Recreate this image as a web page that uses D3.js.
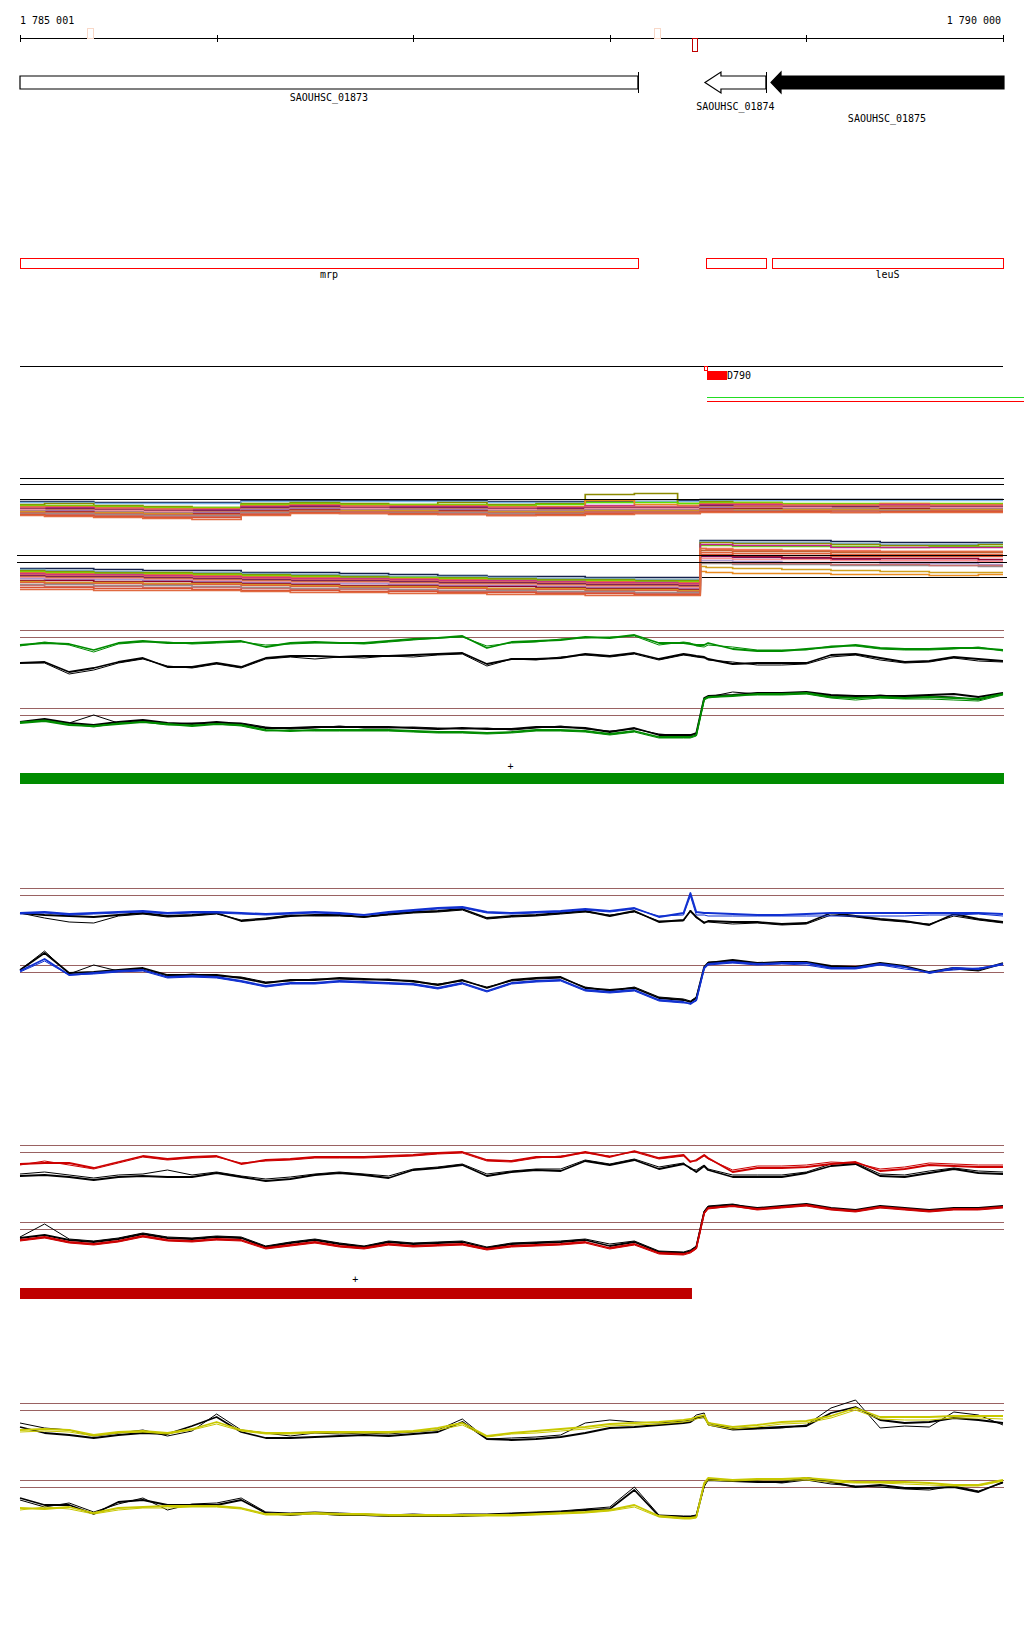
<!DOCTYPE html>
<html><head><meta charset="utf-8">
<script src="https://cdn.jsdelivr.net/npm/d3@7"></script>
<style>
body{margin:0;background:#fff}
svg{display:block}
text{font-family:"DejaVu Sans Mono",monospace;font-size:10px;fill:#000}
</style></head>
<body><svg id="c" width="1024" height="1640"></svg>
<script>
// ---------------- DATA ----------------
const regionLabels = ["1 785 001", "1 790 000"];
const tickOffsets = [0, 1000, 2000, 3000, 4000, 5000];
const axisMarkStart = [341, 3225, 3418];
const axisMarkEnd   = [371, 3256, 3444];
const axisMarkSide  = ["up", "up", "down"];

const geneNames  = ["SAOUHSC_01873", "SAOUHSC_01874", "SAOUHSC_01875"];
const geneStart  = [0, 3484, 3820];
const geneEnd    = [3143, 3794, 5005];
const geneStrand = ["+", "-", "-"];
const geneFilled = [false, false, true];

const operonNames = ["mrp", "", "leuS"];
const operonStart = [0, 3489, 3825];
const operonEnd   = [3143, 3794, 5000];

const featLabel = "D790";
const featStart = 3494, featEnd = 3596;

// signal sample positions (bp offset from 1 785 001)
const sigPos = [0,125,250,375,500,625,750,875,1000,1125,1250,1375,1500,1625,1750,1875,2000,2125,2250,2375,2500,2625,2750,2875,3000,3125,3250,3375,3410,3440,3480,3500,3625,3750,3875,4000,4125,4250,4375,4500,4625,4750,4875,5000];

// green condition
const greenUpG1 = [45,47,46,40,47,49,47,47,48,49,43,47,48,47,47,49,51,52,54,42,48,49,50,53,52,55,47,47,46,45,45,47,41,39,39,41,43,45,42,41,41,42,42,40];
const greenUpG2 = [44,48,45,38,46,48,48,46,47,48,45,46,47,47,46,48,50,52,53,44,47,48,51,52,53,54,45,48,47,44,43,45,43,40,40,40,44,44,41,40,40,41,43,39];
const greenUpK1 = [27,28,18,22,28,32,23,23,27,23,32,34,34,33,34,34,35,36,37,26,31,31,32,36,34,37,31,36,35,34,33,31,26,27,27,27,35,36,32,28,29,33,31,29];
const greenUpK2 = [27,27,16,20,27,31,24,22,26,22,31,33,31,33,32,34,33,35,36,24,31,30,33,35,33,36,30,35,34,33,32,30,28,25,25,26,33,35,30,27,28,32,29,28];
const greenLoK1 = [46,49,45,43,46,48,45,44,46,44,40,40,41,41,41,41,40,39,40,39,39,41,41,40,36,40,33,33,33,35,70,72,73,75,75,76,73,72,72,72,73,74,71,75];
const greenLoK2 = [46,48,45,53,45,47,44,45,45,45,41,39,40,42,40,40,41,40,39,40,38,40,42,39,37,39,34,32,32,34,69,71,76,74,74,75,72,71,73,71,72,71,68,74];
const greenLoG1 = [45,47,43,42,44,46,44,42,44,43,38,37,38,38,38,38,37,36,36,35,36,38,38,37,34,37,31,31,31,33,69,71,72,74,74,75,71,70,71,70,71,70,69,74];
const greenLoG2 = [46,48,44,41,45,46,43,43,44,42,37,38,37,37,37,37,36,35,35,34,35,37,37,36,33,36,30,30,30,32,68,70,73,73,73,74,70,68,70,69,69,68,67,73];

// blue condition
const blueUpB1 = [35,36,34,35,36,37,35,36,36,35,34,35,36,35,33,36,38,40,41,36,35,36,37,39,37,40,31,35,55,36,35,35,34,33,33,34,35,35,35,35,35,35,35,34];
const blueUpB2 = [34,35,33,34,35,36,34,35,35,34,33,34,35,34,33,35,37,39,40,35,34,35,36,38,36,39,32,33,52,33,33,32,32,32,32,32,32,32,32,32,33,33,34,32];
const blueUpK1 = [35,33,32,31,33,35,32,33,35,27,29,32,33,33,31,34,36,37,39,30,32,33,35,37,32,37,26,28,37,31,25,27,26,26,24,25,35,32,29,27,23,34,29,26];
const blueUpK2 = [35,30,26,25,32,34,31,32,34,28,30,33,32,32,31,33,35,36,38,29,31,32,34,36,33,36,27,27,38,30,26,26,24,25,23,24,33,31,28,26,24,32,28,25];
const blueLoK1 = [55,72,52,53,55,57,50,50,50,47,42,45,45,47,46,45,44,40,45,37,45,47,48,37,35,37,27,25,23,27,58,62,65,62,63,63,59,58,62,59,53,57,55,62];
const blueLoK2 = [55,74,51,60,54,56,49,51,49,48,43,44,46,46,45,46,43,41,44,38,44,46,47,38,34,38,28,26,24,28,57,63,64,61,62,62,58,57,61,58,52,56,54,61];
const blueLoB1 = [54,66,50,52,54,55,48,49,48,44,39,42,42,44,43,42,41,37,42,34,42,44,45,35,33,35,25,23,21,25,57,61,63,61,62,62,57,57,61,58,52,57,56,61];
const blueLoB2 = [53,64,50,51,53,54,47,48,47,43,38,41,41,43,42,41,40,36,41,33,41,43,44,34,32,34,24,22,22,24,56,60,62,60,61,60,56,56,60,56,53,55,57,60];

// red condition
const redUpR1 = [41,42,42,37,43,49,46,48,49,41,45,46,48,48,48,49,50,52,53,45,44,48,48,53,48,54,47,50,43,45,50,47,33,37,37,38,41,43,34,36,40,39,38,38];
const redUpR2 = [40,44,40,36,42,48,45,47,48,42,44,45,47,47,47,48,49,51,52,44,43,47,49,52,49,53,46,49,44,44,49,46,35,39,39,40,43,42,36,38,42,41,40,40];
const redUpK1 = [29,30,28,25,28,29,28,28,32,28,24,26,30,32,30,27,35,37,40,29,33,35,34,44,40,45,36,41,37,33,39,35,28,28,28,32,39,41,29,28,32,36,32,31];
const redUpK2 = [31,33,30,27,30,31,35,30,33,29,26,28,31,33,31,29,36,38,41,31,34,36,36,45,41,46,38,42,36,35,40,36,30,30,30,33,41,42,31,30,34,37,34,33];
const redLoK1 = [44,47,42,40,43,48,44,43,45,44,35,39,42,38,35,40,38,39,40,34,38,39,40,42,36,40,30,29,31,35,70,75,77,74,76,78,74,72,76,74,72,74,74,76];
const redLoK2 = [45,58,43,41,44,49,45,44,46,45,36,40,43,39,36,41,39,40,41,35,39,40,41,43,38,41,31,30,32,36,71,76,78,73,75,77,73,71,75,73,71,73,73,75];
const redLoR1 = [42,45,40,38,41,46,42,41,43,42,34,37,40,36,34,38,36,37,38,33,36,37,38,40,34,38,29,28,30,34,69,74,76,73,75,77,73,71,75,73,71,73,73,75];
const redLoR2 = [41,44,39,37,40,45,41,40,42,41,33,36,39,35,33,37,35,36,37,32,35,36,37,39,33,37,28,27,29,33,68,73,76,72,74,76,72,70,74,72,70,72,72,74];

// yellow condition
const yelUpK1 = [36,30,28,25,28,30,29,37,46,31,25,25,26,27,28,27,29,31,41,24,23,24,26,30,35,36,38,40,41,45,46,40,34,35,36,37,50,56,43,40,41,45,43,40];
const yelUpK2 = [40,35,33,27,30,33,27,32,49,33,30,27,30,29,30,29,31,33,44,24,25,26,28,40,43,41,40,42,43,48,50,38,33,34,35,38,55,63,35,37,36,51,48,38];
const yelUpY1 = [33,34,33,28,31,32,30,34,41,33,30,30,31,31,31,31,32,35,40,27,30,32,34,36,39,40,41,43,44,46,48,40,36,38,41,42,47,55,46,46,46,47,47,47];
const yelUpY2 = [31,32,31,27,30,31,29,33,39,32,29,29,30,30,30,30,31,33,38,26,29,30,32,34,37,38,39,41,42,44,46,38,34,36,39,40,45,53,44,43,43,45,45,44];
const yelLoK1 = [42,35,35,26,38,40,35,35,35,40,27,25,27,25,25,24,24,24,24,25,26,27,28,30,31,50,24,23,23,24,55,60,59,58,58,62,58,53,55,52,52,53,48,58];
const yelLoK2 = [40,33,37,28,36,42,30,36,37,42,28,27,28,27,26,25,26,25,26,26,27,28,29,31,33,53,25,24,24,25,53,61,60,59,57,60,56,54,53,51,50,54,49,57];
const yelLoY1 = [32,31,33,27,32,33,34,34,34,32,26,26,27,26,26,25,25,25,25,25,25,26,27,28,30,35,24,22,22,23,57,62,60,61,61,62,60,58,58,58,57,55,55,60];
const yelLoY2 = [30,33,31,26,30,32,32,33,33,31,25,25,26,25,25,24,24,24,24,24,24,25,26,27,29,33,23,21,21,22,55,60,59,60,60,60,58,57,57,56,55,54,54,59];

// strand bars
const greenBarStart = 0, greenBarEnd = 5005;
const redBarStart = 0, redBarEnd = 3418;
const greenPlusPos = 2495, redPlusPos = 1705;

// multi-sample bands
const bandPos = [0,250,500,750,1000,1250,1500,1750,2000,2250,2500,2750,3000,3250,3440,3480,3500,3750,4000,4250,4500,4750,5000];
const bandColors = ["#14204a","#7ab4e8","#8c8a00","#5ee000","#e88a20","#c0208a","#f47a6a","#701060","#b86030","#ff9090","#a898d0","#900030","#d0a020","#e0603a","#909090","#c87070","#d85030","#e06a40"];
const band1 = [
 [19,19,18,18,18,20,20,20,20,20,19,19,19,19,20,21,21,21,21,21,21,21,21],
 [18,18,17,17,17,19,19,19,19,19,18,18,18,19,19,20,20,20,20,20,20,20,20],
 [16,17,15,14,13,17,18,17,16,18,16,17,26,27,17,19,19,18,16,13,11,14,15],
 [15,15,14,13,13,16,17,16,16,16,15,16,18,18,17,18,18,18,17,17,17,17,17],
 [14,14,13,12,12,15,16,15,15,15,14,14,20,16,15,17,17,17,16,16,17,16,16],
 [13,13,12,11,11,14,15,14,14,14,13,13,15,14,14,16,16,16,15,15,16,15,15],
 [13,12,12,11,10,13,14,14,13,13,13,12,14,14,14,15,15,15,15,15,15,15,15],
 [12,12,11,10,10,13,14,13,13,13,12,12,13,13,13,15,15,14,14,14,14,14,14],
 [11,11,10,9,9,12,13,12,12,12,11,11,12,12,12,14,14,14,13,13,14,13,13],
 [11,10,10,9,8,11,12,12,11,11,11,10,12,12,12,13,13,13,13,12,13,13,13],
 [10,10,9,8,8,11,12,11,11,11,10,10,11,11,11,13,13,12,12,12,12,12,12],
 [9,9,8,7,7,10,11,10,10,10,9,9,10,10,10,12,12,12,11,11,12,11,11],
 [9,8,8,7,6,9,10,10,10,9,9,9,10,10,10,11,11,11,11,11,11,11,11],
 [8,8,7,6,6,9,10,9,9,9,8,8,9,9,9,11,11,10,10,10,10,10,10],
 [7,7,6,5,5,8,9,8,8,8,7,7,8,8,8,10,10,10,9,9,10,9,9],
 [6,6,5,4,4,7,8,8,7,7,6,6,8,8,8,10,10,9,9,9,9,9,9],
 [6,5,4,3,3,6,8,7,7,6,5,6,7,7,7,9,9,9,9,8,9,9,9],
 [5,4,3,2,1,5,7,7,6,6,5,5,6,7,7,8,8,8,8,8,8,8,8]
];
const band2 = [
 [32,32,31,30,30,28,28,27,26,25,24,24,23,23,23,60,60,60,60,59,58,58,58],
 [31,30,29,28,28,27,26,25,24,24,23,22,22,21,21,59,59,58,58,57,56,56,57],
 [30,29,28,28,27,26,25,24,23,23,22,21,21,20,20,58,58,57,57,56,55,55,56],
 [29,28,27,27,26,25,24,23,23,22,21,20,20,19,19,55,55,54,54,54,53,54,54],
 [28,27,26,26,25,24,23,22,22,21,20,19,19,18,18,29,28,27,27,26,26,25,26],
 [27,26,26,25,24,23,22,22,21,20,20,19,18,18,17,56,56,55,55,53,53,53,53],
 [26,25,25,24,23,22,21,21,20,19,19,18,17,17,16,52,52,51,50,50,49,49,49],
 [25,24,24,23,22,21,20,20,19,18,18,17,16,16,15,44,44,43,42,41,40,40,39],
 [24,23,23,22,21,20,19,19,18,17,17,16,15,15,14,50,50,49,49,48,48,48,48],
 [23,22,22,21,20,19,18,18,17,16,16,15,14,14,13,42,42,41,41,40,40,40,39],
 [22,21,21,20,19,18,17,17,16,15,15,14,13,13,12,40,40,39,38,38,37,37,36],
 [20,20,19,19,18,17,16,15,15,14,14,13,12,12,11,45,45,44,43,42,42,42,41],
 [19,18,18,17,17,16,15,14,14,13,12,12,11,11,10,34,33,32,31,30,29,28,28],
 [18,17,17,16,16,15,14,13,13,12,11,11,10,10,9,48,48,47,47,46,46,46,46],
 [16,16,15,15,14,13,12,12,11,10,10,9,9,8,8,37,37,36,36,35,35,35,34],
 [15,14,14,13,13,12,11,11,10,9,9,8,8,7,7,38,38,37,37,36,36,35,35],
 [13,13,12,12,11,10,10,9,9,8,8,7,7,6,6,46,46,45,45,44,44,44,44],
 [11,11,10,10,10,9,8,8,7,7,6,6,5,5,5,52,51,50,50,49,49,49,49]
];

// ---------------- DRAWING ----------------
const svg = d3.select("#c");
const x = d3.scaleLinear().domain([0, 5000]).range([20, 1003]);
const crisp = v => Math.round(v) + 0.5;

// top axis
const axisY = 38;
svg.append("line").attr("x1", x(0)).attr("x2", x(5000)).attr("y1", axisY + 0.5).attr("y2", axisY + 0.5)
  .attr("stroke", "#000").attr("shape-rendering", "crispEdges");
svg.selectAll(".tick").data(tickOffsets).join("line")
  .attr("x1", d => crisp(x(d))).attr("x2", d => crisp(x(d)))
  .attr("y1", axisY - 3).attr("y2", axisY + 4).attr("stroke", "#000").attr("shape-rendering", "crispEdges");
svg.append("text").attr("x", x(0)).attr("y", 24).text(regionLabels[0]);
svg.append("text").attr("x", x(5000) - 2).attr("y", 24).attr("text-anchor", "end").text(regionLabels[1]);
axisMarkStart.forEach((s, i) => {
  const up = axisMarkSide[i] === "up";
  svg.append("rect").attr("x", crisp(x(s))).attr("width", Math.round(x(axisMarkEnd[i]) - x(s)))
    .attr("y", up ? 28.5 : 38.5).attr("height", up ? 10 : 13)
    .attr("fill", "none").attr("stroke", up ? "#f8d8c8" : "#c00000").attr("shape-rendering", "crispEdges");
});

// genes
const gTop = 76, gBot = 89, hTop = 72, hBot = 93;
geneNames.forEach((name, i) => {
  const a = x(geneStart[i]), b = x(geneEnd[i]);
  let pts;
  if (geneStrand[i] === "-") {
    const hb = a + (geneFilled[i] ? 10 : 16);
    pts = [[a, (hTop + hBot) / 2], [hb, hTop], [hb, gTop], [b, gTop], [b, gBot], [hb, gBot], [hb, hBot]];
  } else {
    pts = [[a, gTop], [b, gTop], [b, gBot], [a, gBot]];
  }
  svg.append("path").attr("d", d3.line()(pts) + "Z")
    .attr("fill", geneFilled[i] ? "#000" : "#fff").attr("stroke", "#000").attr("stroke-width", 1.2);
  if (!geneFilled[i]) {
    svg.append("line").attr("x1", crisp(b)).attr("x2", crisp(b)).attr("y1", hTop).attr("y2", hBot)
      .attr("stroke", "#000").attr("shape-rendering", "crispEdges");
  }
  const ly = [101, 110, 122][i];
  svg.append("text").attr("x", (a + Math.min(b, 1003)) / 2).attr("y", ly).attr("text-anchor", "middle").text(name);
});

// operons
operonNames.forEach((name, i) => {
  const a = x(operonStart[i]), b = x(operonEnd[i]);
  svg.append("rect").attr("x", crisp(a)).attr("y", 258.5).attr("width", Math.round(b - a)).attr("height", 10)
    .attr("fill", "none").attr("stroke", "#ff0000").attr("shape-rendering", "crispEdges");
  if (name) svg.append("text").attr("x", (a + b) / 2).attr("y", 278).attr("text-anchor", "middle").text(name);
});

// transcript line & feature
svg.append("line").attr("x1", x(0)).attr("x2", x(5000)).attr("y1", 366.5).attr("y2", 366.5)
  .attr("stroke", "#000").attr("shape-rendering", "crispEdges");
svg.append("rect").attr("x", crisp(x(featStart)) - 3).attr("y", 366.5).attr("width", 3).attr("height", 4)
  .attr("fill", "none").attr("stroke", "#ff0000").attr("shape-rendering", "crispEdges");
svg.append("rect").attr("x", Math.round(x(featStart))).attr("y", 371).attr("width", Math.round(x(featEnd) - x(featStart))).attr("height", 9)
  .attr("fill", "#ff0000");
svg.append("text").attr("x", Math.round(x(featEnd))).attr("y", 379).text(featLabel);
svg.append("line").attr("x1", x(featStart)).attr("x2", 1024).attr("y1", 397.5).attr("y2", 397.5)
  .attr("stroke", "#22dd22").attr("shape-rendering", "crispEdges");
svg.append("line").attr("x1", x(featStart)).attr("x2", 1024).attr("y1", 401.5).attr("y2", 401.5)
  .attr("stroke", "#ff0000").attr("shape-rendering", "crispEdges");

// multi-sample bands
function hline(y, x1, x2, color, w) {
  svg.append("line").attr("x1", x1).attr("x2", x2).attr("y1", y + 0.5).attr("y2", y + 0.5)
    .attr("stroke", color).attr("stroke-width", w || 1).attr("shape-rendering", "crispEdges");
}
hline(478, 20, 1004, "#000", 1.5);
hline(484, 20, 1004, "#000", 1.5);
function band(data, base) {
  const y = d3.scaleLinear().domain([0, 60]).range([base, base - 60]);
  const ln = d3.line().x((d, i) => x(bandPos[i])).y(d => Math.round(y(d)) + 0.5).curve(d3.curveStep);
  data.forEach((s, k) => {
    svg.append("path").datum(s).attr("d", ln).attr("fill", "none")
      .attr("stroke", bandColors[k]).attr("stroke-width", 1.7);
  });
}
band(band1, 520);
hline(499, 20, 1004, "#000", 1.5);
band(band2, 600);
hline(555, 17, 1007, "#000", 1.5);
hline(562, 17, 1007, "#000", 1.5);
hline(577, x(3470), 1007, "#000", 1.5);

// signal panels
const brown = "#9a6262";
function panel(yb, series) {
  const y = d3.scaleLinear().domain([0, 60]).range([yb + 60, yb]);
  [60, 53].forEach(v => hline(Math.round(y(v)), x(0), x(5005), brown, 1.2));
  const ln = d3.line().x((d, i) => x(sigPos[i])).y(d => y(d));
  series.forEach(s => {
    svg.append("path").datum(s[0]).attr("d", ln).attr("fill", "none")
      .attr("stroke", s[1]).attr("stroke-width", s[2]).attr("stroke-linejoin", "round");
  });
}
const GRN = "#008c00", BLU = "#1030d0", RED = "#cc0000", YEL = "#c8c800";
panel(630, [[greenUpK2, "#000", 1], [greenUpK1, "#000", 1.8], [greenUpG2, GRN, 1], [greenUpG1, GRN, 1.8]]);
panel(708, [[greenLoK2, "#000", 1], [greenLoK1, "#000", 1.8], [greenLoG2, GRN, 1], [greenLoG1, GRN, 1.8]]);
svg.append("rect").attr("x", x(greenBarStart)).attr("y", 773).attr("width", x(greenBarEnd) - x(greenBarStart)).attr("height", 11).attr("fill", "#008c00");
svg.append("text").attr("x", x(greenPlusPos)).attr("y", 770).attr("text-anchor", "middle").text("+");

panel(888, [[blueUpK2, "#000", 1], [blueUpK1, "#000", 1.8], [blueUpB2, BLU, 1], [blueUpB1, BLU, 1.8]]);
panel(965, [[blueLoK2, "#000", 1], [blueLoK1, "#000", 1.8], [blueLoB2, BLU, 1], [blueLoB1, BLU, 1.8]]);

panel(1145, [[redUpK2, "#000", 1], [redUpK1, "#000", 1.8], [redUpR2, RED, 1], [redUpR1, RED, 1.8]]);
panel(1222, [[redLoK2, "#000", 1], [redLoK1, "#000", 1.8], [redLoR2, RED, 1], [redLoR1, RED, 1.8]]);
svg.append("rect").attr("x", x(redBarStart)).attr("y", 1288).attr("width", x(redBarEnd) - x(redBarStart)).attr("height", 11).attr("fill", "#bf0000");
svg.append("text").attr("x", x(redPlusPos)).attr("y", 1283).attr("text-anchor", "middle").text("+");

panel(1403, [[yelUpK2, "#000", 1], [yelUpK1, "#000", 1.8], [yelUpY2, YEL, 1], [yelUpY1, YEL, 1.8]]);
panel(1480, [[yelLoK2, "#000", 1], [yelLoK1, "#000", 1.8], [yelLoY2, YEL, 1], [yelLoY1, YEL, 1.8]]);
</script>
</body></html>
